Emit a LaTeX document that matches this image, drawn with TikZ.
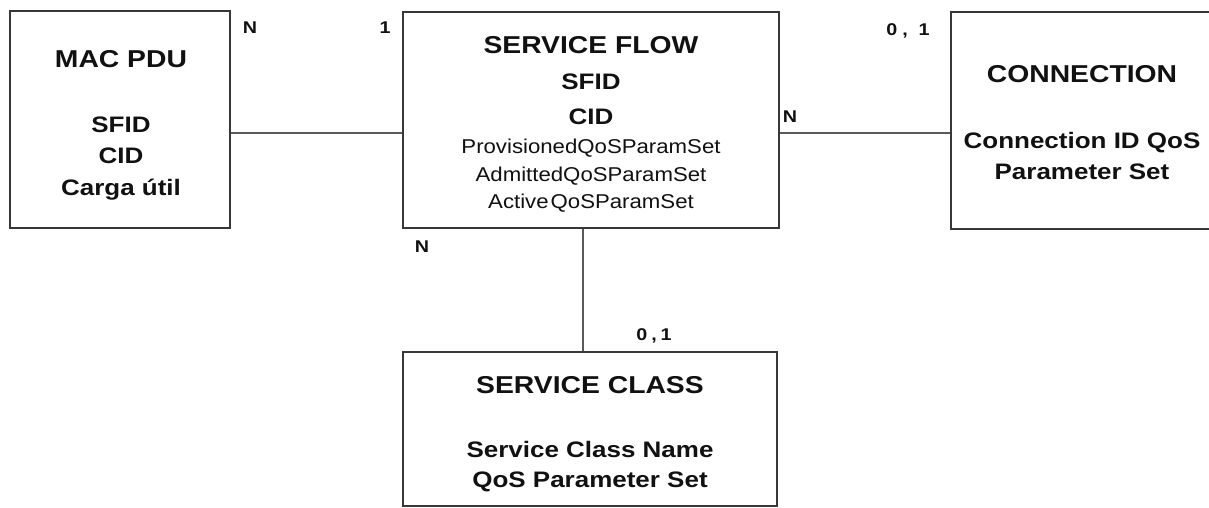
\documentclass[tikz,border=0pt]{standalone}
\usepackage{fontspec}
\setmainfont{Liberation Sans}[FakeStretch=1.16]
\newfontfamily\paramfont{Liberation Sans}[FakeStretch=1.11]
\definecolor{edge}{HTML}{383838}
\definecolor{wire}{HTML}{5A5A5A}
\definecolor{ink}{HTML}{111111}
\tikzset{
  entity/.style={draw=edge, line width=2pt, inner sep=0pt, fill=white},
  title/.style={font=\bfseries\fontsize{24.4}{24}\selectfont, text=ink, anchor=base, inner sep=0pt},
  attr/.style={font=\bfseries\fontsize{22.4}{22}\selectfont, text=ink, anchor=base, inner sep=0pt},
  param/.style={font=\paramfont\fontsize{20}{20}\selectfont, text=ink, anchor=base, inner sep=0pt},
  card/.style={font=\bfseries\fontsize{17}{17}\selectfont, text=ink, anchor=base, inner sep=0pt},
  link/.style={draw=wire, line width=1.5pt}
}
\begin{document}
\begin{tikzpicture}[x=1pt, y=-1pt]
\useasboundingbox (0,0) rectangle (1209,507);
\clip (0,0) rectangle (1209,507);

% entity boxes
\node[entity, minimum width=220pt, minimum height=217pt] (mac) at (120,119.5) {};
\node[entity, minimum width=376pt, minimum height=216pt] (sf) at (591,120) {};
\node[entity, minimum width=262pt, minimum height=217pt] (conn) at (1082,120.5) {};
\node[entity, minimum width=374pt, minimum height=154pt] (sc) at (590,429) {};

% relationships
\draw[link] (mac.east |- 0,133) -- (sf.west |- 0,133);
\draw[link] (sf.east |- 0,133) -- (conn.west |- 0,133);
\draw[link] (sf.south -| 583,0) -- (sc.north -| 583,0);

% MAC PDU
\node[title] (macT) at (121,67) {MAC PDU};
\node[attr] (macA) at (121,132) {SFID};
\node[attr] (macB) at (121,163) {CID};
\node[attr] (macC) at (121,195) {Carga útil};

% SERVICE FLOW
\node[title] (sfT) at (591,53) {SERVICE FLOW};
\node[attr] (sfA) at (591,89) {SFID};
\node[attr] (sfB) at (591,124) {CID};
\node[param] (sfC) at (591,153) {ProvisionedQoSParamSet};
\node[param] (sfD) at (591,181) {AdmittedQoSParamSet};
\node[param] (sfE) at (591,208) {Active\kern2pt QoSParamSet};

% CONNECTION
\node[title] (connT) at (1082,82) {CONNECTION};
\node[attr] (connA) at (1082,148) {Connection ID QoS};
\node[attr] (connB) at (1082,179) {Parameter Set};

% SERVICE CLASS
\node[title] (scT) at (590,393) {SERVICE CLASS};
\node[attr] (scA) at (590,457) {Service Class Name};
\node[attr] (scB) at (590,487) {QoS Parameter Set};

% cardinalities
\node[card] (c1) at (250,33) {N};
\node[card] (c2) at (385,33) {1};
\node[card] (c3) at (908,35) {0\hspace{5pt},\hspace{11pt}1};
\node[card] (c4) at (790,122) {N};
\node[card] (c5) at (422,252) {N};
\node[card] (c6) at (654,340) {0\hspace{4pt},\hspace{4pt}1};
\end{tikzpicture}
\end{document}
